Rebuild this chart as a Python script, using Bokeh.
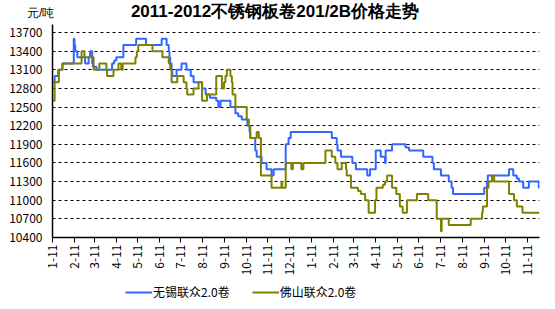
import math
import pandas as pd
from bokeh.plotting import figure
from bokeh.layouts import column
from bokeh.models import Range1d, FixedTicker, Legend, LegendItem, Div
from bokeh.embed import file_html
from bokeh.resources import INLINE

title_text = "2011-2012不锈钢板卷201/2B价格走势"
unit_text = "元/吨"
series_names = ["无锡联众2.0卷", "佛山联众2.0卷"]

tick_labels = ["1-11", "2-11", "3-11", "4-11", "5-11", "6-11", "7-11", "8-11",
               "9-11", "10-11", "11-11", "12-11", "1-11", "2-11", "3-11", "4-11",
               "5-11", "6-11", "7-11", "8-11", "9-11", "10-11", "11-11"]
y_ticks = [10400, 10700, 11000, 11300, 11600, 11900, 12200, 12500, 12800,
           13100, 13400, 13700]

start_date = "2011-01-11"
end_date = "2012-11-28"

wuxi_dates = [
    "2011-01-11", "2011-01-14", "2011-01-19", "2011-01-25", "2011-02-10",
    "2011-02-11", "2011-02-12", "2011-02-15", "2011-02-26", "2011-03-03",
    "2011-03-05", "2011-03-08", "2011-03-09", "2011-03-14", "2011-04-05",
    "2011-04-08", "2011-04-11", "2011-04-21", "2011-05-09", "2011-05-23",
    "2011-06-14", "2011-06-21", "2011-06-24", "2011-06-25", "2011-06-26",
    "2011-06-28", "2011-06-29", "2011-07-05", "2011-07-12", "2011-07-19",
    "2011-07-25", "2011-07-29", "2011-08-10", "2011-08-15", "2011-08-21",
    "2011-08-30", "2011-09-02", "2011-09-05", "2011-09-19", "2011-09-26",
    "2011-09-30", "2011-10-05", "2011-10-13", "2011-10-16", "2011-10-17",
    "2011-10-24", "2011-10-26", "2011-11-02", "2011-11-09", "2011-11-16",
    "2011-11-19", "2011-12-06", "2011-12-10", "2011-12-13", "2012-02-09",
    "2012-02-16", "2012-02-17", "2012-02-22", "2012-03-09", "2012-03-14",
    "2012-03-30", "2012-04-03", "2012-04-11", "2012-04-18", "2012-04-24",
    "2012-04-25", "2012-05-04", "2012-05-23", "2012-05-28", "2012-06-17",
    "2012-06-30", "2012-07-02", "2012-07-12", "2012-07-23", "2012-07-27",
    "2012-07-29", "2012-09-11", "2012-09-15", "2012-09-16", "2012-10-16",
    "2012-10-22", "2012-10-27", "2012-10-30", "2012-11-05", "2012-11-13",
    "2012-11-27"]
wuxi_prices = [
    12900, 13000, 13100, 13200, 13600,
    13500, 13400, 13300, 13200, 13300,
    13400, 13200, 13150, 13100, 13200,
    13250, 13300, 13500, 13600, 13500,
    13600, 13500, 13400, 13300, 13200,
    13100, 13000, 13100, 13200, 13100,
    13000, 12900, 12800, 12700, 12650,
    12600, 12500, 12600, 12500, 12400,
    12350, 12300, 12200, 12100, 12000,
    11800, 11700, 11600, 11500, 11400,
    11500, 11900, 12000, 12100, 12000,
    11900, 11800, 11700, 11600, 11500,
    11400, 11500, 11800, 11700, 11600,
    11800, 11900, 11850, 11800, 11700,
    11600, 11500, 11400, 11300, 11200,
    11100, 11200, 11300, 11400, 11500,
    11400, 11350, 11300, 11200, 11300,
    11200]

foshan_dates = [
    "2011-01-11", "2011-01-14", "2011-01-20", "2011-01-25", "2011-02-21",
    "2011-02-25", "2011-03-10", "2011-03-18", "2011-03-28", "2011-03-29",
    "2011-04-07", "2011-04-14", "2011-04-18", "2011-04-20", "2011-05-08",
    "2011-05-10", "2011-05-12", "2011-06-01", "2011-06-15", "2011-06-24",
    "2011-06-26", "2011-06-28", "2011-07-06", "2011-07-15", "2011-07-19",
    "2011-07-20", "2011-07-29", "2011-08-05", "2011-08-10", "2011-08-17",
    "2011-08-30", "2011-09-07", "2011-09-10", "2011-09-12", "2011-09-14",
    "2011-09-19", "2011-09-21", "2011-09-22", "2011-09-26", "2011-10-12",
    "2011-10-15", "2011-10-17", "2011-10-26", "2011-10-29", "2011-11-01",
    "2011-11-16", "2011-11-30", "2011-12-01", "2011-12-06", "2011-12-14",
    "2011-12-16", "2011-12-28", "2011-12-31", "2012-01-31", "2012-02-09",
    "2012-02-14", "2012-02-17", "2012-02-23", "2012-02-29", "2012-03-01",
    "2012-03-07", "2012-03-17", "2012-03-21", "2012-03-27", "2012-04-01",
    "2012-04-10", "2012-04-12", "2012-04-21", "2012-04-24", "2012-04-27",
    "2012-05-04", "2012-05-10", "2012-05-15", "2012-05-19", "2012-05-25",
    "2012-06-08", "2012-06-24", "2012-07-06", "2012-07-12", "2012-07-13",
    "2012-07-23", "2012-08-23", "2012-09-08", "2012-09-09", "2012-09-15",
    "2012-09-17", "2012-09-22", "2012-09-25", "2012-10-16", "2012-10-23",
    "2012-10-27", "2012-11-04"]
foshan_prices = [
    12600, 12900, 13100, 13200, 13400,
    13300, 13100, 13200, 13100, 13000,
    13100, 13200, 13100, 13200, 13300,
    13400, 13500, 13400, 13300, 13200,
    13100, 12900, 13000, 12900, 12800,
    12700, 12800, 12900, 12600, 12700,
    13000, 12800, 12900, 13000, 13100,
    13000, 12900, 12700, 12500, 12300,
    12200, 12000, 12100, 12000, 11400,
    11200, 11300, 11200, 11600, 11500,
    11600, 11500, 11600, 11800, 11700,
    11600, 11500, 11600, 11500, 11400,
    11200, 11150, 11100, 11000, 10800,
    11000, 11200, 11250, 11300, 11400,
    11200, 11100, 10900, 10800, 11000,
    11100, 11000, 10700, 10500, 10700,
    10600, 10700, 10800, 10900, 11200,
    11300, 11400, 11300, 11100, 11000,
    10900, 10800]

base = pd.Timestamp(start_date)


def to_x(d):
    return (pd.Timestamp(d) - base).days


def step_coords(dates, prices):
    xs, ys = [], []
    pts = [to_x(d) for d in dates] + [to_x(end_date)]
    for i, v in enumerate(prices):
        xs += [pts[i], pts[i + 1]]
        ys += [v, v]
    return xs, ys


tick_dates = pd.date_range(start_date, periods=len(tick_labels),
                           freq=pd.DateOffset(months=1))
tick_x = [to_x(d) for d in tick_dates]

FONT = "Noto Sans CJK SC"
BLUE = "#3366ff"
OLIVE = "#808000"
W, H = 555, 309
LEFT_B, RIGHT_B, FRAME_W = 52, 16, 487
HEAD_H = 23          # header strip (title + unit)
TOP_PAD = 8          # axis area above the top gridline
GRID_H = 205         # pixels between the lowest and highest gridline
BOT_B = 45
MAIN_H = 1 + TOP_PAD + GRID_H + BOT_B
FOOT_H = H - HEAD_H - MAIN_H

y_lo, y_hi = y_ticks[0], y_ticks[-1]
y_top = y_hi + TOP_PAD * (y_hi - y_lo) / GRID_H

# ---- header strip: title and unit as inline SVG text ----
head_html = (
    f'<svg xmlns="http://www.w3.org/2000/svg" width="{W}" height="{HEAD_H}" '
    f'style="display:block;overflow:visible;">'
    f'<text x="27" y="14" font-family="{FONT}" font-size="12" fill="black" '
    f'text-anchor="start" dominant-baseline="middle">{unit_text}</text>'
    f'<text x="275" y="13" font-family="{FONT}" font-size="17" '
    f'font-weight="bold" fill="black" text-anchor="middle" '
    f'dominant-baseline="middle">{title_text}</text>'
    f'</svg>')
head = Div(text=head_html, width=W, height=HEAD_H, margin=0)

# ---- main chart ----
p = figure(width=W, height=MAIN_H, frame_width=FRAME_W,
           frame_height=TOP_PAD + GRID_H, output_backend="svg",
           toolbar_location=None,
           x_range=Range1d(0, to_x(end_date)),
           y_range=Range1d(y_lo, y_top),
           min_border_left=LEFT_B, min_border_right=RIGHT_B, min_border_top=1,
           min_border_bottom=BOT_B)
p.background_fill_color = "white"
p.border_fill_color = "white"
p.outline_line_color = None

wx, wy = step_coords(wuxi_dates, wuxi_prices)
fx, fy = step_coords(foshan_dates, foshan_prices)
p.line(wx, wy, line_color=BLUE, line_width=2)
p.line(fx, fy, line_color=OLIVE, line_width=2)

p.yaxis.ticker = FixedTicker(ticks=y_ticks)
p.yaxis.major_tick_out = 0
p.yaxis.major_tick_in = 0
p.yaxis.minor_tick_line_color = None
p.yaxis.axis_line_color = "black"
p.yaxis.axis_line_width = 1.5
p.yaxis.major_label_text_font = FONT
p.yaxis.major_label_text_font_size = "12px"
p.yaxis.major_label_text_color = "black"
p.yaxis.major_label_standoff = 10

p.xaxis.ticker = FixedTicker(ticks=tick_x)
p.xaxis.major_label_overrides = {tx: lab for tx, lab in zip(tick_x, tick_labels)}
p.xaxis.major_label_orientation = math.pi / 2
p.xaxis.major_tick_out = 5
p.xaxis.major_tick_in = 0
p.xaxis.minor_tick_line_color = None
p.xaxis.axis_line_color = "black"
p.xaxis.axis_line_width = 1.5
p.xaxis.major_tick_line_color = "black"
p.xaxis.major_label_text_font = FONT
p.xaxis.major_label_text_font_size = "12px"
p.xaxis.major_label_text_color = "black"
p.xaxis.major_label_standoff = 2

p.xgrid.grid_line_color = None
p.ygrid.ticker = FixedTicker(ticks=y_ticks)
p.ygrid.grid_line_color = "black"
p.ygrid.grid_line_dash = "3 3"
p.ygrid.grid_line_width = 1

# ---- footer strip: legend ----
foot = figure(width=W, height=FOOT_H, frame_width=FRAME_W, frame_height=FOOT_H,
              output_backend="svg", toolbar_location=None, x_axis_type=None,
              y_axis_type=None, x_range=Range1d(0, 1), y_range=Range1d(0, 1),
              min_border_left=LEFT_B, min_border_right=RIGHT_B,
              min_border_top=0, min_border_bottom=0)
foot.outline_line_color = None
foot.grid.visible = False
k1 = foot.line(x=[-2, -1], y=[-2, -2], line_color=BLUE, line_width=2)
k2 = foot.line(x=[-2, -1], y=[-2, -2], line_color=OLIVE, line_width=2)
legend = Legend(items=[LegendItem(label=series_names[0], renderers=[k1]),
                       LegendItem(label=series_names[1], renderers=[k2])],
                orientation="horizontal", location=(125 - LEFT_B, FOOT_H - 18))
legend.label_text_font = FONT
legend.label_text_font_size = "12px"
legend.label_text_color = "black"
legend.label_height = 12
legend.glyph_width = 27
legend.glyph_height = 12
legend.label_standoff = 1
legend.spacing = 22
legend.padding = 0
legend.margin = 0
legend.border_line_color = None
legend.background_fill_alpha = 0
foot.add_layout(legend)

layout = column(head, p, foot, spacing=0)
open("out.html", "w").write(file_html(layout, INLINE))
